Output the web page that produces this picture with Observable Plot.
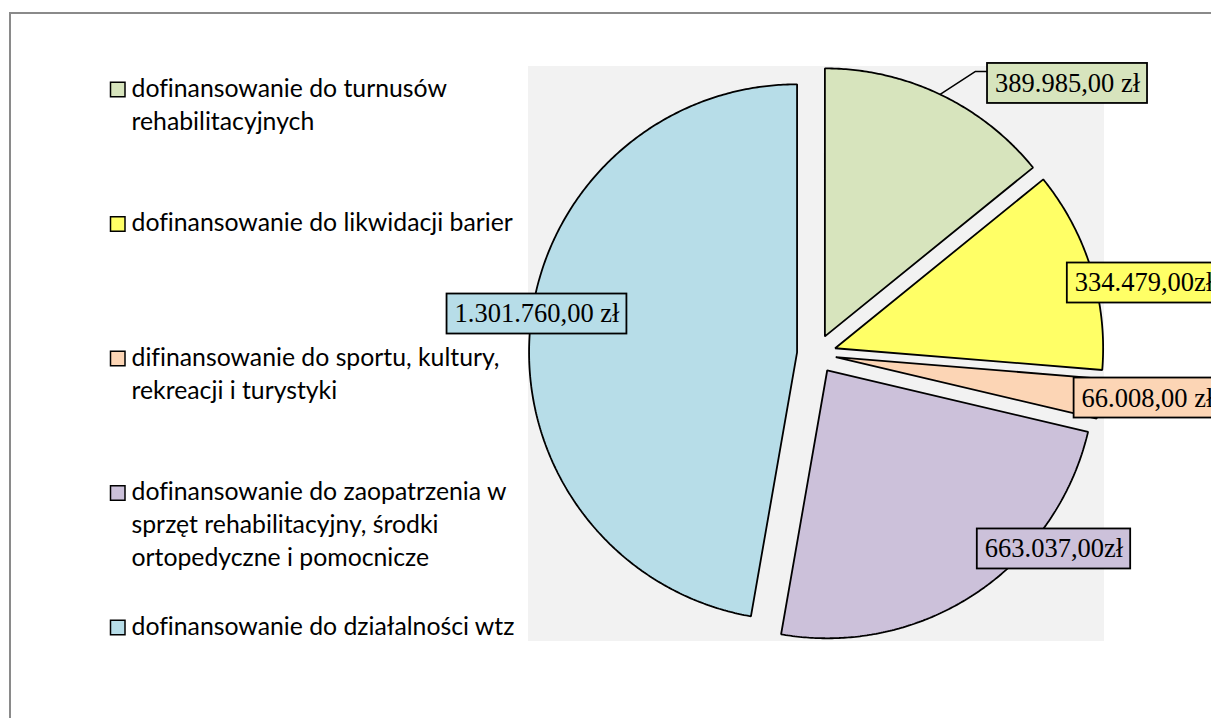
<!DOCTYPE html>
<html><head><meta charset="utf-8">
<script src="https://cdn.jsdelivr.net/npm/d3@7"></script>
<script src="https://cdn.jsdelivr.net/npm/@observablehq/plot@0.6"></script>
<style>html,body{margin:0;padding:0;background:#fff;overflow:hidden} svg text{font-variant-ligatures:none;font-feature-settings:"liga" 0}</style>
</head><body><div id="chart"></div>
<script>
// ---- data ----
const categories = [
  "dofinansowanie do turnusów rehabilitacyjnych",
  "dofinansowanie do likwidacji barier",
  "difinansowanie do sportu, kultury, rekreacji i turystyki",
  "dofinansowanie do zaopatrzenia w sprzęt rehabilitacyjny, środki ortopedyczne i pomocnicze",
  "dofinansowanie do działalności wtz"
];
const legendLines = [
  ["dofinansowanie do turnusów", "rehabilitacyjnych"],
  ["dofinansowanie do likwidacji barier"],
  ["difinansowanie do sportu, kultury,", "rekreacji i turystyki"],
  ["dofinansowanie do zaopatrzenia w", "sprzęt rehabilitacyjny, środki", "ortopedyczne i pomocnicze"],
  ["dofinansowanie do działalności wtz"]
];
const values = [389985, 334479, 66008, 663037, 1301760];
const valueLabels = ["389.985,00 zł", "334.479,00zł", "66.008,00 zł", "663.037,00zł", "1.301.760,00 zł"];
const colors = ["#D7E4BD", "#FFFF66", "#FCD5B5", "#CCC1DA", "#B7DDE8"];

// ---- layout ----
const W = 1211, H = 718;
const center = {x: 816, y: 353.5}, R = 268, explode = 19.5;
const plotArea = {x1: 528, y1: 66, x2: 1104, y2: 641};
const labelPlacement = [ // distance from slice apex, angle offset (deg) from slice mid-angle
  {dist: 350.5, delta: 18.33, leader: true},
  {dist: 315.7, delta: 5.27},
  {dist: 314.4, delta: -1.48},
  {dist: 288.7, delta: -18.36},
  {dist: 262.9, delta: 3.42}
];
const labelFont = "'Liberation Serif', 'Times New Roman', serif", labelSize = 26.5, labelPad = 7.5, labelH = 40;
const legendFont = "Lato, 'Open Sans', sans-serif";
const legend = {sqX: 110.5, sqSize: 14.5, textX: 131, top: 88.5, step: 134.5, lineStep: 33, fitText: "dofinansowanie do likwidacji barier", fitWidth: 381};

function measure(text, font) {
  const ctx = measure.ctx || (measure.ctx = document.createElement("canvas").getContext("2d"));
  ctx.font = font;
  return ctx.measureText(text).width;
}

function draw() {
  const legendSize = 100 * legend.fitWidth / measure(legend.fitText, `100px ${legendFont}`);
  const arcs = d3.pie().sort(null).startAngle(0).endAngle(2 * Math.PI)(values);
  const pt = (c, r, a) => ({x: c.x + r * Math.sin(a), y: c.y - r * Math.cos(a)});

  const slices = arcs.map((a, i) => {
    const mid = (a.startAngle + a.endAngle) / 2;
    const apex = pt(center, explode, mid);
    const n = Math.max(2, Math.ceil((a.endAngle - a.startAngle) / (Math.PI / 360)));
    const pts = [{...apex, i}];
    for (let k = 0; k <= n; k++) pts.push({...pt(apex, R, a.startAngle + (a.endAngle - a.startAngle) * k / n), i});
    return {i, mid, apex, pts};
  });

  const labels = slices.map(s => {
    const p = labelPlacement[s.i];
    const c = pt(s.apex, p.dist, s.mid + p.delta * Math.PI / 180);
    const w = measure(valueLabels[s.i], `${labelSize}px ${labelFont}`) + 2 * labelPad;
    return {i: s.i, x: c.x, y: c.y, text: valueLabels[s.i], x1: c.x - w / 2, x2: c.x + w / 2, y1: c.y - labelH / 2, y2: c.y + labelH / 2, fill: colors[s.i]};
  });

  const leaders = labels.filter(l => labelPlacement[l.i].leader).map(l => {
    const s = slices[l.i];
    const a = pt(s.apex, R, s.mid);
    const yy = l.y - 12;
    return [a, {x: l.x1 - 12, y: yy}, {x: l.x1, y: yy}];
  });

  const legendSquares = categories.map((c, i) => {
    const y = legend.top + i * legend.step + 1;
    return {x1: legend.sqX, x2: legend.sqX + legend.sqSize, y1: y - legend.sqSize / 2, y2: y + legend.sqSize / 2, fill: colors[i], name: c};
  });
  const legendText = legendLines.flatMap((lines, i) => lines.map((t, j) => ({x: legend.textX, y: legend.top + i * legend.step + j * legend.lineStep, text: t})));

  const chart = Plot.plot({
    width: W, height: H, margin: 0,
    x: {domain: [0, W], range: [0, W], axis: null},
    y: {domain: [0, H], range: [0, H], axis: null},
    style: {background: "white"},
    marks: [
      Plot.rect([{x1: 10, x2: W + 20, y1: 13, y2: H + 20}], {x1: "x1", x2: "x2", y1: "y1", y2: "y2", fill: "none", stroke: "#8a8a8a", strokeWidth: 2}),
      Plot.rect([plotArea], {x1: "x1", x2: "x2", y1: "y1", y2: "y2", fill: "#F2F2F2"}),
      ...slices.map(s => Plot.line(s.pts, {x: "x", y: "y", curve: "linear-closed", fill: colors[s.i], stroke: "black", strokeWidth: 1.8, strokeLinejoin: "miter"})),
      ...leaders.map(L => Plot.line(L, {x: "x", y: "y", stroke: "black", strokeWidth: 1.5})),
      Plot.rect(labels, {x1: "x1", x2: "x2", y1: "y1", y2: "y2", fill: "fill", stroke: "black", strokeWidth: 1.8}),
      Plot.text(labels, {x: "x", y: "y", text: "text", fontFamily: labelFont, fontSize: labelSize, textAnchor: "middle", lineAnchor: "middle", fill: "black"}),
      Plot.rect(legendSquares, {x1: "x1", x2: "x2", y1: "y1", y2: "y2", fill: "fill", stroke: "black", strokeWidth: 1.5}),
      Plot.text(legendText, {x: "x", y: "y", text: "text", fontFamily: legendFont, fontSize: legendSize, textAnchor: "start", lineAnchor: "middle", fill: "black"})
    ]
  });
  document.getElementById("chart").appendChild(chart);
}

Promise.all([
  document.fonts.load("26px 'Liberation Serif'"),
  document.fonts.load("26px Lato")
]).catch(() => {}).then(draw);
</script>
</body></html>
